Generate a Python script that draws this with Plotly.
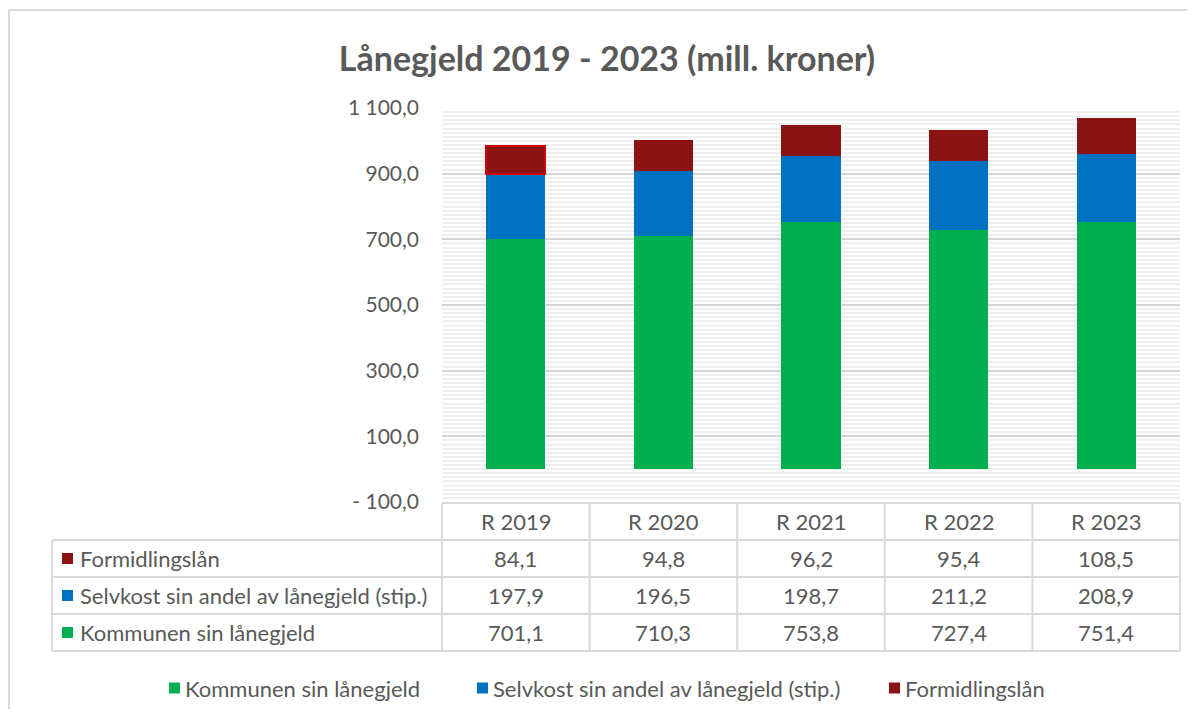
import plotly.graph_objects as go

# ---------------- data ----------------
CATEGORIES = ["R 2019", "R 2020", "R 2021", "R 2022", "R 2023"]
SERIES_NAMES = ["Kommunen sin lånegjeld",
                "Selvkost sin andel av lånegjeld (stip.)",
                "Formidlingslån"]
KOMMUNEN = [701.1, 710.3, 753.8, 727.4, 751.4]
SELVKOST = [197.9, 196.5, 198.7, 211.2, 208.9]
FORMIDLING = [84.1, 94.8, 96.2, 95.4, 108.5]
Y_TICKS = [-100, 100, 300, 500, 700, 900, 1100]
TITLE = "Lånegjeld 2019 - 2023 (mill. kroner)"

SERIES = [KOMMUNEN, SELVKOST, FORMIDLING]
COLORS = ["#00B050", "#0070C0", "#8B1313"]
FONT = "Lato, Carlito, Calibri, sans-serif"
TXT = "#595959"
BCOL = "#D9D9D9"
TBL_FS = 22


def fmt(v):
    s = f"{abs(v):,.1f}".replace(",", " ").replace(".", ",")
    return ("- " if v < 0 else "") + s


# ---------------- geometry (page pixels; body has an 8px margin) ----------------
OFF = 8
W, H = 1195 - OFF, 717 - 2 * OFF
PL, PR, PT, PB = 442, 1180, 108, 502          # plot area in page pixels
L, R, T, B = PL - OFF, (OFF + W) - PR, PT - OFF, (OFF + H) - PB
PW, PH = PR - PL, PB - PT


def xp(px):
    return (px - PL) / PW


def yp(py):
    return 1 - (py - PT) / PH


fig = go.Figure()
for i, (name, vals, col) in enumerate(zip(SERIES_NAMES, SERIES, COLORS)):
    line_cols = [col] * len(vals)
    line_w = [0] * len(vals)
    if i == 2:
        line_cols[0] = "#D00000"
        line_w[0] = 2
    fig.add_trace(go.Bar(
        x=CATEGORIES, y=vals, name=name, width=0.4,
        marker=dict(color=col, line=dict(color=line_cols, width=line_w)),
        showlegend=False,
    ))

shapes = []
annotations = []


def hline(x0, x1, y, color=BCOL, w=2):
    shapes.append(dict(type="line", xref="paper", yref="paper",
                       x0=xp(x0), x1=xp(x1), y0=yp(y), y1=yp(y),
                       line=dict(color=color, width=w)))


def vline(x, y0, y1, color=BCOL, w=2):
    shapes.append(dict(type="line", xref="paper", yref="paper",
                       x0=xp(x), x1=xp(x), y0=yp(y0), y1=yp(y1),
                       line=dict(color=color, width=w)))


# outer chart border (top + left visible)
hline(9, 1195, 10)
vline(9, 10, 717)

# ---------------- data table ----------------
TBL_TOP, HDR_BOT = 503, 540
ROW_H = 37
TBL_LEFT = 52
rows_y = [HDR_BOT + ROW_H * k for k in range(4)]  # 540, 577, 614, 651
hline(PL, PR, TBL_TOP)
for yy in rows_y:
    hline(TBL_LEFT, PR, yy)
ncat = len(CATEGORIES)
for k in range(ncat + 1):
    vline(PL + PW * k / ncat, TBL_TOP, rows_y[-1])
vline(TBL_LEFT, rows_y[0], rows_y[-1])

# header text
for cat in CATEGORIES:
    annotations.append(dict(x=cat, xref="x", y=yp((TBL_TOP + HDR_BOT) / 2), yref="paper",
                            text=cat, showarrow=False, xanchor="center", yanchor="middle",
                            font=dict(family=FONT, size=TBL_FS, color=TXT)))

# rows (top to bottom: reversed series order)
order = [2, 1, 0]
for r, si in enumerate(order):
    cy = (rows_y[r] + rows_y[r + 1]) / 2
    shapes.append(dict(type="rect", xref="paper", yref="paper",
                       x0=xp(62), x1=xp(73), y0=yp(cy - 5.5), y1=yp(cy + 5.5),
                       fillcolor=COLORS[si], line=dict(width=0)))
    annotations.append(dict(x=xp(78), xref="paper", y=yp(cy), yref="paper",
                            text=SERIES_NAMES[si], showarrow=False,
                            xanchor="left", yanchor="middle",
                            font=dict(family=FONT, size=TBL_FS, color=TXT)))
    for cat, v in zip(CATEGORIES, SERIES[si]):
        annotations.append(dict(x=cat, xref="x", y=yp(cy), yref="paper",
                                text=fmt(v), showarrow=False,
                                xanchor="center", yanchor="middle",
                                font=dict(family=FONT, size=TBL_FS, color=TXT)))

# ---------------- legend (manual) ----------------
LEG_Y = 688
leg_sq_x = [169, 477, 889]
for si, sx in enumerate(leg_sq_x):
    shapes.append(dict(type="rect", xref="paper", yref="paper",
                       x0=xp(sx), x1=xp(sx + 11), y0=yp(LEG_Y - 5.5), y1=yp(LEG_Y + 5.5),
                       fillcolor=COLORS[si], line=dict(width=0)))
    annotations.append(dict(x=xp(sx + 14), xref="paper", y=yp(LEG_Y), yref="paper",
                            text=SERIES_NAMES[si], showarrow=False,
                            xanchor="left", yanchor="middle",
                            font=dict(family=FONT, size=TBL_FS, color=TXT)))

fig.update_layout(
    width=W, height=H,
    margin=dict(l=L, r=R, t=T, b=B, pad=0),
    barmode="stack",
    paper_bgcolor="white",
    plot_bgcolor="white",
    font=dict(family=FONT, color=TXT),
    title=dict(text="<b>" + TITLE + "</b>", x=(607 - OFF) / W, xanchor="center",
               y=1 - (59 - OFF) / H, yanchor="middle",
               font=dict(family=FONT, size=34, color=TXT)),
    xaxis=dict(range=[-0.5, 4.5], showticklabels=False, showgrid=False,
               zeroline=False, showline=False, ticks=""),
    yaxis=dict(range=[-100, 1100], tickvals=Y_TICKS,
               ticktext=[fmt(v) for v in Y_TICKS],
               tickfont=dict(family=FONT, size=21, color=TXT),
               showgrid=True, gridcolor="#D4D4D4", gridwidth=2,
               zeroline=False, showline=False, ticks="",
               ticklabelstandoff=22,
               minor=dict(dtick=12.5, tick0=-100, showgrid=True,
                          gridcolor="#EFEFEF", gridwidth=2)),
    shapes=shapes,
    annotations=annotations,
    showlegend=False,
)

fig.write_html("out.html")
